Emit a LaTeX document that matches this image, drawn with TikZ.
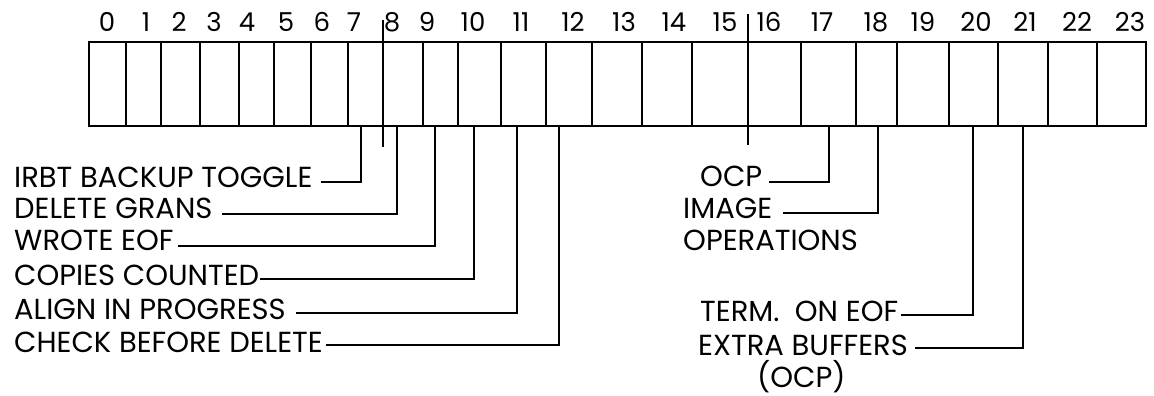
\documentclass[tikz,border=0pt]{standalone}
\usepackage{fontspec}
\setmainfont{Poppins}
\usetikzlibrary{calc}
\tikzset{
  cellline/.style={line width=1.7pt},
  leader/.style={line width=1.2pt},
  tickline/.style={line width=1.4pt},
  lbl/.style={inner sep=0pt, anchor=base west, font=\fontsize{29}{32}\selectfont},
  num/.style={inner sep=0pt, anchor=base, font=\fontsize{26}{28}\selectfont},
}
\begin{document}
\begin{tikzpicture}[x=1pt,y=-1pt]
\useasboundingbox (0,0) rectangle (1154,396);
% register cells
\foreach \a/\b in {89/126,126/161,161/200,200/239,239/274,274/311,311/348,348/383,383/423,423/458,458/501,501/546,546/592,592/642,642/692,692/748,748/801,801/856,856/897,897/949,949/998,998/1048,1048/1097,1097/1146}
  \draw[cellline] (\a,42) rectangle (\b,126);
% bit numbers
\foreach \x [count=\i from 0] in {107,146,179,214,247,286,322,354,392,427,473,521,573,624,674,725,769,822,876,923,976,1025,1077,1130}
  {\node[num] (n\i) at (\x,32) {\i};}
% ticks through the register
\draw[tickline] (383,20) -- (383,147);
\draw[tickline] (748,14) -- (748,145);
% bit positions
\coordinate (b7) at (361,126);
\coordinate (b8) at (397,126);
\coordinate (b9) at (435,126);
\coordinate (b10) at (474,126);
\coordinate (b11) at (517,126);
\coordinate (b12) at (559,126);
\coordinate (b17) at (829,126);
\coordinate (b18) at (878,126);
\coordinate (b20) at (973,126);
\coordinate (b21) at (1023,126);
% left labels
\node[lbl] (t7) at (14,187) {IRBT BACKUP TOGGLE};
\node[lbl] (t8) at (14,218) {DELETE GRANS};
\node[lbl] (t9) at (14,250) {WROTE EOF};
\node[lbl] (t10) at (14,285) {COPIES COUNTED};
\node[lbl] (t11) at (14,319) {ALIGN IN PROGRESS};
\node[lbl] (t12) at (14,352) {CHECK BEFORE DELETE};
% right labels
\node[lbl] (t17) at (700,186) {OCP};
\node[lbl] (t18) at (683,218) {IMAGE};
\node[lbl] (t18b) at (683,250) {OPERATIONS};
\node[lbl] (t20) at (700,321) {TERM.\ \ ON EOF};
\node[lbl] (t21) at (698,355) {EXTRA BUFFERS};
\node[lbl] (t21b) at (757,387) {(OCP)};
% leaders
\draw[leader] ([xshift=8pt,yshift=5pt]t7.base east) -| (b7);
\draw[leader] ([xshift=9pt,yshift=4pt]t8.base east) -| (b8);
\draw[leader] ([xshift=4pt,yshift=4pt]t9.base east) -| (b9);
\draw[leader] ([xshift=1pt,yshift=6pt]t10.base east) -| (b10);
\draw[leader] ([xshift=10pt,yshift=6pt]t11.base east) -| (b11);
\draw[leader] ([xshift=3pt,yshift=7pt]t12.base east) -| (b12);
\draw[leader] ([xshift=7pt,yshift=4pt]t17.base east) -| (b17);
\draw[leader] ([xshift=11pt,yshift=5pt]t18.base east) -| (b18);
\draw[leader] ([xshift=3pt,yshift=6pt]t20.base east) -| (b20);
\draw[leader] ([xshift=7pt,yshift=7pt]t21.base east) -| (b21);
\end{tikzpicture}
\end{document}
